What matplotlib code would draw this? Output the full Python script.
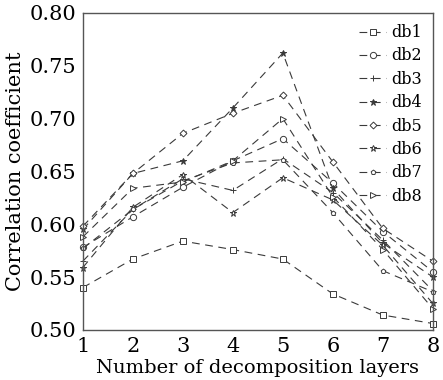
import numpy as np
import matplotlib
matplotlib.use("Agg")
from matplotlib import pyplot as plt

layers = [1, 2, 3, 4, 5, 6, 7, 8]

db1 = [0.540, 0.567, 0.584, 0.576, 0.567, 0.534, 0.514, 0.506]
db2 = [0.578, 0.607, 0.635, 0.660, 0.681, 0.639, 0.593, 0.555]
db3 = [0.565, 0.614, 0.643, 0.632, 0.662, 0.630, 0.585, 0.537]
db4 = [0.595, 0.648, 0.660, 0.710, 0.762, 0.634, 0.582, 0.550]
db5 = [0.598, 0.648, 0.686, 0.705, 0.722, 0.659, 0.596, 0.565]
db6 = [0.559, 0.616, 0.647, 0.611, 0.644, 0.623, 0.580, 0.525]
db7 = [0.577, 0.614, 0.641, 0.658, 0.661, 0.611, 0.556, 0.536]
db8 = [0.588, 0.634, 0.640, 0.660, 0.700, 0.626, 0.576, 0.520]

names = ["db1", "db2", "db3", "db4", "db5", "db6", "db7", "db8"]
series = [db1, db2, db3, db4, db5, db6, db7, db8]
markers = ["s", "o", "+", "*", "D", "*", "p", ">"]
msizes = [4.5, 4.5, 5, 4.5, 3.5, 4.5, 3.5, 4.5]

plt.rcParams['font.family'] = ['DejaVu Serif']

fig = plt.figure(figsize=(4.43, 3.80), dpi=100)
ax = fig.add_axes([0.187, 0.132, 0.790, 0.834])

for i in range(len(series)):
    filled = names[i] == "db4"
    ax.plot(layers, series[i], linestyle=(0, (7, 5)), color="#3a3a3a", linewidth=0.8,
            marker=markers[i], markersize=msizes[i], markeredgewidth=0.7,
            markerfacecolor="#3a3a3a" if filled else "white", markeredgecolor="#3a3a3a",
            label=names[i], clip_on=False)

ax.set_xlim(1, 8)
ax.set_ylim(0.50, 0.80)
ax.set_xticks(layers)
ax.set_yticks([0.50, 0.55, 0.60, 0.65, 0.70, 0.75, 0.80])
ax.set_yticklabels(["0.50", "0.55", "0.60", "0.65", "0.70", "0.75", "0.80"])
ax.tick_params(direction="in", length=0, labelsize=15, pad=5)
for s in ax.spines.values():
    s.set_color("#555555")
    s.set_linewidth(1.0)

ax.set_xlabel("Number of decomposition layers", fontsize=14, labelpad=2)
ax.set_ylabel("Correlation coefficient", fontsize=15, labelpad=3)

ax.legend(loc="upper right", frameon=False, fontsize=11.5, handlelength=1.7,
          labelspacing=0.4, handletextpad=0.3, borderaxespad=0.3)

fig.savefig("out.png", dpi=100)
